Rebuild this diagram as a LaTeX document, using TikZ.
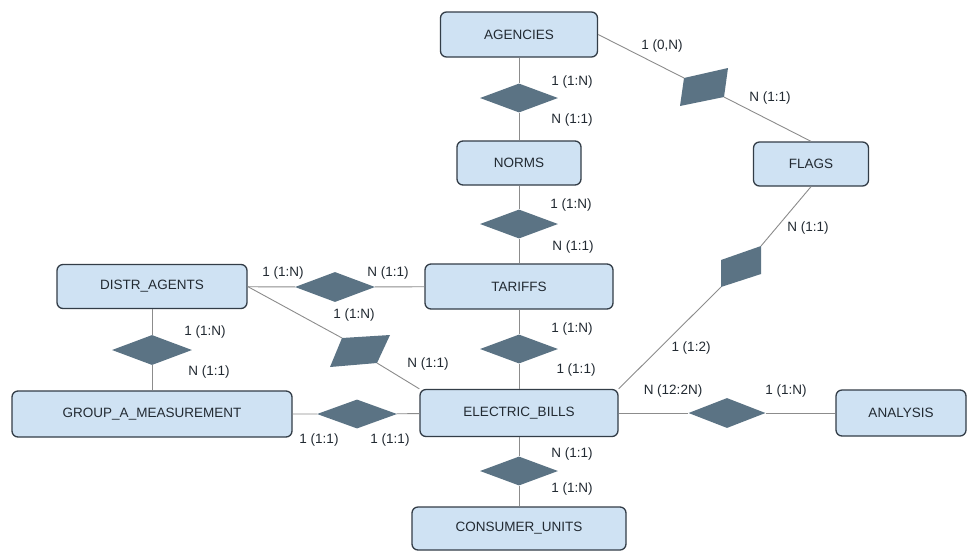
\documentclass[tikz,border=0pt]{standalone}
\usepackage{fontspec}
\setmainfont{Liberation Sans}
\usetikzlibrary{shapes.geometric}
\definecolor{boxfill}{HTML}{CFE2F3}
\definecolor{boxline}{HTML}{333D47}
\definecolor{relfill}{HTML}{5B7384}
\definecolor{conn}{HTML}{8C8C8C}
\definecolor{txt}{HTML}{222A32}
\begin{document}
\begin{tikzpicture}[x=1pt,y=-1pt,
  entity/.style={rectangle, rounded corners=6pt, draw=boxline, line width=1.3pt, fill=boxfill, inner sep=0pt, font=\fontsize{13.5}{15}\selectfont, text=txt},
  rel/.style={diamond, fill=relfill, draw=none, inner sep=0pt, minimum width=78pt, minimum height=29pt},
  card/.style={font=\fontsize{13.5}{15}\selectfont, text=txt, inner sep=0pt},
  link/.style={draw=conn, line width=0.9pt}]
\useasboundingbox (0,0) rectangle (968,550);
\fill[white] (0,0) rectangle (968,550);

% entities
\node[entity, minimum width=157pt, minimum height=45pt] (agencies) at (519,34.5) {AGENCIES};
\node[entity, minimum width=124pt, minimum height=44pt] (norms) at (519,163) {NORMS};
\node[entity, minimum width=115pt, minimum height=44pt] (flags) at (811,164) {FLAGS};
\node[entity, minimum width=188pt, minimum height=45pt] (tariffs) at (519,286.5) {TARIFFS};
\node[entity, minimum width=190pt, minimum height=44pt] (distr) at (152,286.5) {DISTR\_AGENTS};
\node[entity, minimum width=280pt, minimum height=46pt] (group) at (152,414) {GROUP\_A\_MEASUREMENT};
\node[entity, minimum width=198pt, minimum height=47pt] (eb) at (519,413) {ELECTRIC\_BILLS};
\node[entity, minimum width=130pt, minimum height=46pt] (analysis) at (901,413) {ANALYSIS};
\node[entity, minimum width=214pt, minimum height=43pt] (consumer) at (519,528.5) {CONSUMER\_UNITS};

% relationships (regular)
\node[rel] (r1) at (519,98) {};
\node[rel] (r2) at (519,224) {};
\node[rel, minimum width=80pt, minimum height=30pt] (r3) at (335,287) {};
\node[rel, minimum width=80pt, minimum height=30pt] (r4) at (152,350) {};
\node[rel] (r5) at (519,349) {};
\node[rel, minimum width=80pt] (r6) at (357,414) {};
\node[rel, minimum width=77pt, minimum height=30pt] (r7) at (727,413) {};
\node[rel] (r8) at (519,471) {};

% relationships (skewed)
\coordinate (s1a) at (684,78);
\coordinate (s1b) at (728,68);
\coordinate (s1c) at (724,97);
\coordinate (s1d) at (680,106);
\fill[relfill] (s1a) -- (s1b) -- (s1c) -- (s1d) -- cycle;
\coordinate (s2a) at (721,260);
\coordinate (s2b) at (761,246);
\coordinate (s2c) at (761,274);
\coordinate (s2d) at (721,287);
\fill[relfill] (s2a) -- (s2b) -- (s2c) -- (s2d) -- cycle;
\coordinate (s3a) at (342,338);
\coordinate (s3b) at (390,335);
\coordinate (s3c) at (377,363);
\coordinate (s3d) at (330,367);
\fill[relfill] (s3a) -- (s3b) -- (s3c) -- (s3d) -- cycle;

% connectors
\draw[link] (agencies) -- (r1) -- (norms);
\draw[link] (norms) -- (r2) -- (tariffs);
\draw[link] (distr) -- (r3) -- (tariffs);
\draw[link] (distr) -- (r4) -- (group);
\draw[link] (tariffs) -- (r5) -- (eb);
\draw[link] (group) -- (r6) -- (eb);
\draw[link] (eb) -- (r7) -- (analysis);
\draw[link] (eb) -- (r8) -- (consumer);
\draw[link] (agencies.east) -- (s1a);
\draw[link] (s1c) -- (flags.north);
\draw[link] (flags.south) -- (s2b);
\draw[link] (s2d) -- (eb.north east);
\draw[link] (distr.east) -- (s3a);
\draw[link] (s3c) -- (eb.north west);

% cardinalities
\node[card] (c1) at (572,82) {1 (1:N)};
\node[card] (c2) at (572,120) {N (1:1)};
\node[card] (c3) at (662,46) {1 (0,N)};
\node[card] (c4) at (770,98) {N (1:1)};
\node[card] (c5) at (571,205) {1 (1:N)};
\node[card] (c6) at (573,247) {N (1:1)};
\node[card] (c7) at (808,228) {N (1:1)};
\node[card] (c8) at (283,273) {1 (1:N)};
\node[card] (c9) at (388,273) {N (1:1)};
\node[card] (c10) at (354,315) {1 (1:N)};
\node[card] (c11) at (205,332) {1 (1:N)};
\node[card] (c12) at (209,372) {N (1:1)};
\node[card] (c13) at (572,329) {1 (1:N)};
\node[card] (c14) at (576,370) {1 (1:1)};
\node[card] (c15) at (428,364) {N (1:1)};
\node[card] (c16) at (691,348) {1 (1:2)};
\node[card] (c17) at (673,391) {N (12:2N)};
\node[card] (c18) at (786,391) {1 (1:N)};
\node[card] (c19) at (319,440) {1 (1:1)};
\node[card] (c20) at (390,440) {1 (1:1)};
\node[card] (c21) at (572,454) {N (1:1)};
\node[card] (c22) at (572,489) {1 (1:N)};
\end{tikzpicture}
\end{document}
